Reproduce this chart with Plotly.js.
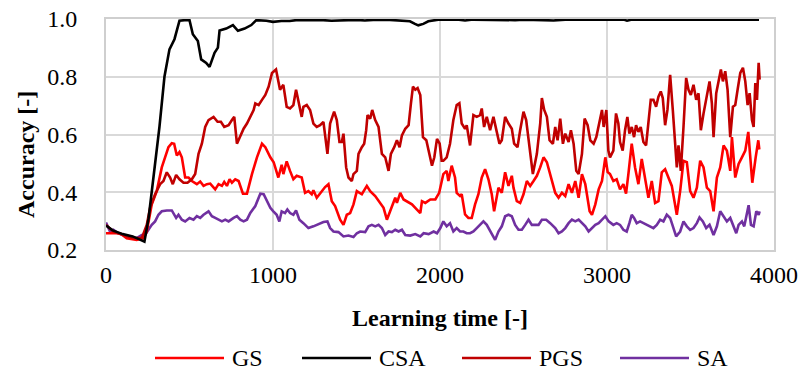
<!DOCTYPE html>
<html>
<head>
<meta charset="utf-8">
<script src="https://cdn.plot.ly/plotly-3.0.1.min.js"></script>
<style>
  html, body { margin: 0; padding: 0; background: #fff; }
  #chart { width: 800px; height: 378px; }
</style>
</head>
<body>
<div id="chart"></div>
<script>
// Accuracy over learning time for four search strategies

const seriesNames = ['GS', 'CSA', 'PGS', 'SA'];
const seriesColors = ['#ff0000', '#000000', '#c00000', '#7030a0'];

const gsTime = [0, 84, 124, 184, 224, 244, 274, 304, 334, 354, 374, 394, 408, 424, 440, 454, 474, 494, 514, 544, 564, 584, 604, 624, 654, 674, 694, 708, 724, 740, 754, 774, 794, 820, 844, 874, 904, 934, 954, 984, 1004,
  1032, 1052, 1062, 1082, 1102, 1122, 1142, 1172, 1192, 1212, 1232, 1242, 1262, 1292, 1312, 1332, 1352, 1372, 1402, 1422, 1442, 1462, 1482, 1502, 1518, 1532, 1562, 1582, 1612, 1642, 1662, 1682, 1702, 1732, 1742, 1762, 1782, 1812, 1832, 1862, 1882, 1892, 1912, 1942, 1972, 1995, 2020,
  2040, 2050, 2070, 2090, 2100, 2120, 2130, 2150, 2170, 2190, 2210, 2230, 2250, 2270, 2290, 2310, 2324, 2350, 2370, 2390, 2410, 2430, 2440, 2460, 2480, 2500, 2520, 2540, 2560, 2580, 2600, 2620, 2640, 2660, 2690, 2710, 2730, 2750, 2770, 2790, 2810, 2830, 2850, 2870, 2896, 2910, 2930, 2950, 2970, 2990, 3004,
  3018, 3038, 3058, 3078, 3098, 3114, 3128, 3148, 3168, 3188, 3208, 3228, 3248, 3268, 3288, 3308, 3328, 3348, 3368, 3388, 3418, 3438, 3458, 3478, 3498, 3518, 3538, 3558, 3578, 3598, 3618, 3638, 3658, 3678, 3698, 3718, 3738, 3748, 3768, 3788, 3808, 3828, 3846, 3870, 3890, 3906, 3912];
const gsAcc = [0.258, 0.258, 0.241, 0.235, 0.241, 0.264, 0.358, 0.404, 0.486, 0.521, 0.556, 0.570, 0.568, 0.527, 0.539, 0.521, 0.451, 0.451, 0.439, 0.428, 0.437, 0.422, 0.428, 0.430, 0.410, 0.428, 0.422, 0.436, 0.422, 0.445, 0.433, 0.445, 0.439, 0.395, 0.395, 0.463, 0.521, 0.568, 0.556, 0.521, 0.504,
  0.451, 0.495, 0.463, 0.507, 0.474, 0.445, 0.457, 0.451, 0.398, 0.404, 0.393, 0.407, 0.381, 0.404, 0.418, 0.428, 0.369, 0.352, 0.305, 0.287, 0.322, 0.328, 0.358, 0.404, 0.398, 0.393, 0.422, 0.404, 0.387, 0.363, 0.346, 0.305, 0.334, 0.381, 0.363, 0.398, 0.375, 0.363, 0.358, 0.340, 0.328, 0.369, 0.363, 0.375, 0.375, 0.398, 0.463,
  0.474, 0.439, 0.492, 0.451, 0.398, 0.387, 0.393, 0.323, 0.311, 0.311, 0.358, 0.393, 0.451, 0.480, 0.445, 0.393, 0.334, 0.416, 0.398, 0.469, 0.422, 0.457, 0.416, 0.369, 0.363, 0.393, 0.439, 0.422, 0.439, 0.457, 0.486, 0.521, 0.504, 0.463, 0.398, 0.381, 0.398, 0.387, 0.428, 0.398, 0.439, 0.381, 0.463, 0.428, 0.334, 0.322, 0.358, 0.410, 0.439, 0.521, 0.470,
  0.463, 0.439, 0.445, 0.410, 0.428, 0.395, 0.463, 0.568, 0.486, 0.428, 0.515, 0.451, 0.381, 0.439, 0.363, 0.369, 0.469, 0.480, 0.451, 0.422, 0.322, 0.404, 0.509, 0.504, 0.404, 0.381, 0.416, 0.509, 0.486, 0.416, 0.404, 0.334, 0.451, 0.486, 0.562, 0.544, 0.474, 0.591, 0.451, 0.498, 0.521, 0.544, 0.609, 0.433, 0.520, 0.580, 0.548];

const csaTime = [0, 40, 100, 160, 200, 230, 255, 290, 320, 350, 380, 410, 440, 470, 500, 520, 550, 570, 600, 620, 650, 670, 680, 720, 760, 790, 830, 870, 900, 960, 1000, 1050, 1100, 1150, 1200, 1300, 1350, 1400, 1450, 1500, 1550, 1600, 1700, 1780, 1820, 1850, 1870, 1900, 1930, 1970, 2000, 2100, 2150, 2200, 2300, 2350, 2450, 2500, 2600, 2680, 2750, 2900, 3000, 3100, 3120, 3150, 3300, 3500, 3700, 3910];
const csaAcc = [0.285, 0.268, 0.255, 0.247, 0.237, 0.229, 0.310, 0.474, 0.626, 0.800, 0.895, 0.930, 0.994, 0.996, 0.996, 0.947, 0.924, 0.860, 0.848, 0.834, 0.883, 0.901, 0.960, 0.967, 0.979, 0.959, 0.967, 0.979, 0.996, 0.994, 0.990, 0.993, 0.993, 0.997, 0.997, 0.996, 0.994, 0.995, 0.997, 0.997, 0.995, 0.997, 0.997, 0.995, 0.992, 0.983, 0.978, 0.983, 0.992, 0.996, 0.998, 0.998, 0.995, 0.998, 0.997, 0.998, 0.996, 0.998, 0.997, 0.995, 0.998, 0.997, 0.998, 0.998, 0.994, 0.998, 0.998, 0.998, 0.998, 0.998];

const pgsTime = [0, 44, 104, 164, 214, 244, 264, 294, 324, 344, 364, 384, 400, 420, 440, 464, 488, 514, 534, 554, 574, 594, 614, 644, 668, 688, 708, 734, 754, 768, 784, 804, 824, 844, 864, 884, 894, 914, 934, 954, 974, 994,
  1018, 1032, 1042, 1062, 1082, 1102, 1122, 1138, 1152, 1172, 1182, 1202, 1222, 1242, 1262, 1282, 1302, 1326, 1342, 1366, 1382, 1398, 1412, 1422, 1438, 1452, 1472, 1482, 1502, 1512, 1532, 1546, 1558, 1566, 1582, 1594, 1612, 1632, 1652, 1672, 1692, 1706, 1726, 1742, 1758, 1772, 1792, 1812, 1826, 1838, 1852, 1866, 1882, 1898, 1918, 1938, 1952, 1966, 1982, 1998,
  2010, 2020, 2040, 2060, 2080, 2100, 2116, 2130, 2150, 2160, 2180, 2200, 2220, 2240, 2250, 2264, 2280, 2300, 2320, 2340, 2356, 2370, 2390, 2410, 2430, 2444, 2464, 2480, 2500, 2516, 2536, 2556, 2580, 2600, 2610, 2624, 2640, 2656, 2676, 2690, 2704, 2720, 2736, 2750, 2770, 2784, 2800, 2816, 2830, 2850, 2866, 2884, 2900, 2920, 2936, 2956, 2970, 2980, 2996, 3008,
  3018, 3038, 3054, 3068, 3078, 3094, 3108, 3122, 3134, 3148, 3162, 3174, 3188, 3202, 3218, 3234, 3248, 3262, 3278, 3294, 3308, 3322, 3334, 3348, 3362, 3378, 3394, 3408, 3418, 3428, 3442, 3458, 3474, 3488, 3502, 3518, 3534, 3548, 3562, 3578, 3598, 3614, 3628, 3638, 3654, 3668, 3682, 3694, 3708, 3722, 3738, 3754, 3768, 3782, 3798, 3814, 3828, 3842, 3854, 3868, 3878, 3888, 3898, 3908, 3914];
const pgsAcc = [0.287, 0.264, 0.252, 0.241, 0.241, 0.287, 0.346, 0.393, 0.428, 0.439, 0.469, 0.451, 0.428, 0.460, 0.445, 0.433, 0.433, 0.445, 0.463, 0.533, 0.568, 0.626, 0.650, 0.661, 0.644, 0.644, 0.626, 0.632, 0.650, 0.661, 0.568, 0.597, 0.620, 0.638, 0.661, 0.685, 0.708, 0.702, 0.720, 0.737, 0.766, 0.813,
  0.825, 0.778, 0.755, 0.772, 0.696, 0.690, 0.702, 0.755, 0.720, 0.661, 0.696, 0.702, 0.685, 0.638, 0.626, 0.632, 0.644, 0.533, 0.638, 0.679, 0.650, 0.574, 0.574, 0.603, 0.486, 0.451, 0.439, 0.463, 0.474, 0.533, 0.556, 0.568, 0.615, 0.667, 0.655, 0.685, 0.650, 0.626, 0.533, 0.521, 0.474, 0.533, 0.556, 0.580, 0.556, 0.597, 0.620, 0.632, 0.708, 0.766, 0.755, 0.761, 0.737, 0.591, 0.580, 0.533, 0.492, 0.521, 0.585, 0.568,
  0.509, 0.509, 0.521, 0.568, 0.650, 0.702, 0.708, 0.638, 0.620, 0.632, 0.562, 0.667, 0.661, 0.667, 0.690, 0.626, 0.661, 0.615, 0.661, 0.609, 0.568, 0.580, 0.661, 0.638, 0.620, 0.568, 0.556, 0.615, 0.679, 0.650, 0.556, 0.463, 0.533, 0.638, 0.726, 0.685, 0.661, 0.580, 0.568, 0.626, 0.580, 0.655, 0.568, 0.603, 0.574, 0.615, 0.568, 0.474, 0.463, 0.533, 0.655, 0.632, 0.580, 0.568, 0.591, 0.650, 0.685, 0.626, 0.685, 0.544,
  0.521, 0.544, 0.673, 0.638, 0.574, 0.544, 0.615, 0.661, 0.603, 0.626, 0.591, 0.632, 0.609, 0.626, 0.574, 0.562, 0.650, 0.720, 0.720, 0.696, 0.731, 0.749, 0.726, 0.632, 0.685, 0.807, 0.685, 0.544, 0.486, 0.562, 0.474, 0.626, 0.796, 0.755, 0.737, 0.772, 0.720, 0.743, 0.615, 0.673, 0.743, 0.784, 0.708, 0.591, 0.743, 0.784, 0.825, 0.784, 0.819, 0.755, 0.591, 0.696, 0.702, 0.755, 0.813, 0.831, 0.784, 0.702, 0.743, 0.650, 0.626, 0.778, 0.720, 0.848, 0.790];

const saTime = [0, 24, 44, 74, 104, 144, 184, 214, 234, 254, 274, 294, 314, 334, 364, 394, 404, 420, 434, 454, 474, 500, 524, 544, 564, 584, 614, 634, 654, 674, 694, 714, 734, 764, 784, 804, 824, 844, 864, 894, 924, 944, 964, 984,
  1002, 1022, 1038, 1052, 1072, 1086, 1102, 1122, 1138, 1158, 1182, 1212, 1242, 1272, 1302, 1326, 1342, 1362, 1392, 1422, 1452, 1482, 1502, 1522, 1552, 1572, 1592, 1612, 1632, 1652, 1672, 1692, 1712, 1732, 1752, 1772, 1792, 1822, 1852, 1882, 1902, 1932, 1962, 1982, 2002,
  2020, 2040, 2060, 2080, 2100, 2120, 2140, 2160, 2180, 2200, 2220, 2240, 2260, 2280, 2300, 2330, 2350, 2370, 2390, 2410, 2430, 2450, 2470, 2490, 2510, 2530, 2550, 2570, 2590, 2610, 2636, 2660, 2690, 2710, 2730, 2750, 2770, 2790, 2810, 2830, 2850, 2870, 2890, 2910, 2930, 2950, 2970, 2990, 3010,
  3038, 3058, 3078, 3098, 3118, 3134, 3148, 3162, 3178, 3198, 3218, 3238, 3258, 3278, 3298, 3318, 3338, 3358, 3378, 3398, 3414, 3438, 3458, 3478, 3498, 3518, 3538, 3554, 3574, 3594, 3614, 3638, 3658, 3678, 3698, 3718, 3738, 3758, 3774, 3788, 3808, 3822, 3838, 3848, 3862, 3878, 3894, 3908, 3914];
const saAcc = [0.295, 0.264, 0.270, 0.258, 0.252, 0.247, 0.241, 0.252, 0.252, 0.270, 0.287, 0.299, 0.322, 0.334, 0.337, 0.337, 0.328, 0.311, 0.322, 0.305, 0.299, 0.311, 0.305, 0.317, 0.311, 0.322, 0.334, 0.317, 0.311, 0.305, 0.299, 0.305, 0.299, 0.311, 0.317, 0.305, 0.299, 0.305, 0.328, 0.352, 0.395, 0.393, 0.369, 0.346,
  0.334, 0.322, 0.299, 0.334, 0.328, 0.340, 0.328, 0.322, 0.337, 0.305, 0.293, 0.276, 0.282, 0.290, 0.297, 0.299, 0.276, 0.264, 0.262, 0.247, 0.250, 0.245, 0.258, 0.264, 0.262, 0.282, 0.287, 0.282, 0.287, 0.276, 0.252, 0.264, 0.262, 0.270, 0.264, 0.270, 0.252, 0.250, 0.255, 0.247, 0.258, 0.255, 0.264, 0.258, 0.276,
  0.299, 0.282, 0.293, 0.264, 0.276, 0.264, 0.264, 0.258, 0.258, 0.264, 0.276, 0.287, 0.299, 0.287, 0.264, 0.235, 0.264, 0.282, 0.317, 0.322, 0.317, 0.287, 0.270, 0.270, 0.287, 0.305, 0.287, 0.287, 0.287, 0.305, 0.305, 0.293, 0.276, 0.258, 0.264, 0.276, 0.293, 0.305, 0.299, 0.305, 0.293, 0.282, 0.264, 0.276, 0.287, 0.293, 0.305, 0.317, 0.299,
  0.287, 0.293, 0.287, 0.270, 0.264, 0.293, 0.322, 0.311, 0.293, 0.299, 0.293, 0.287, 0.282, 0.276, 0.287, 0.305, 0.299, 0.322, 0.311, 0.276, 0.247, 0.264, 0.299, 0.282, 0.270, 0.276, 0.293, 0.313, 0.299, 0.276, 0.287, 0.252, 0.282, 0.334, 0.317, 0.299, 0.311, 0.282, 0.258, 0.287, 0.299, 0.282, 0.322, 0.355, 0.287, 0.282, 0.334, 0.322, 0.334];

const xTickVals = [0, 1000, 2000, 3000, 4000];
const yTickVals = [0.2, 0.4, 0.6, 0.8, 1.0];

const timeSets = [gsTime, csaTime, pgsTime, saTime];
const accSets = [gsAcc, csaAcc, pgsAcc, saAcc];

const FONT = '"Liberation Serif", "Times New Roman", Times, serif';
const TICK_SIZE = 24;
const TITLE_SIZE = 24;

// Draw order: SA under the others, CSA on top
const drawOrder = [3, 0, 2, 1];
const traces = drawOrder.map(i => ({
  type: 'scatter',
  mode: 'lines',
  name: seriesNames[i],
  x: timeSets[i],
  y: accSets[i],
  line: { color: seriesColors[i], width: 2.6 },
  showlegend: false,
  hoverinfo: 'skip'
}));

// Pixel geometry of the plotting area, used to place the legend row and the y title
const plotL = 106, plotW = 668, plotB = 250, plotH = 231;
const toPaperX = px => (px - plotL) / plotW;
const toPaperY = py => (plotB - py) / plotH;

// Legend row below the axis title: a line swatch then the series name
const legendLeft = [155, 302, 462, 620];
const legendY = toPaperY(358);
const shapes = [];
const annotations = [];
seriesNames.forEach((name, i) => {
  shapes.push({
    type: 'line', xref: 'paper', yref: 'paper',
    x0: toPaperX(legendLeft[i]), x1: toPaperX(legendLeft[i] + 69),
    y0: legendY, y1: legendY,
    line: { color: seriesColors[i], width: 2.6 }
  });
  annotations.push({
    xref: 'paper', yref: 'paper',
    x: toPaperX(legendLeft[i] + 75), y: legendY,
    xanchor: 'left', yanchor: 'middle',
    text: name, showarrow: false,
    font: { family: FONT, size: TICK_SIZE, color: '#000' }
  });
});

// Vertical y-axis title, centred a little below the middle of the plot
annotations.push({
  xref: 'paper', yref: 'paper',
  x: toPaperX(26), y: toPaperY(155),
  xanchor: 'center', yanchor: 'middle',
  textangle: -90,
  text: '<b>Accuracy [-]</b>', showarrow: false,
  font: { family: FONT, size: TITLE_SIZE, color: '#000' }
});

const layout = {
  width: 800,
  height: 378,
  margin: { l: 106, r: 26, t: 19, b: 128, pad: 0 },
  paper_bgcolor: '#ffffff',
  plot_bgcolor: '#ffffff',
  font: { family: FONT, size: TICK_SIZE, color: '#000' },
  xaxis: {
    range: [0, 4000],
    tickvals: xTickVals,
    ticktext: xTickVals.map(String),
    showgrid: true, gridcolor: '#d9d9d9', gridwidth: 2,
    showline: true, linecolor: '#cfcfcf', linewidth: 2, mirror: true,
    zeroline: false, ticks: '',
    ticklabelstandoff: 2,
    tickfont: { family: FONT, size: TICK_SIZE, color: '#000' },
    title: { text: '<b>Learning time [-]</b>', font: { family: FONT, size: TITLE_SIZE, color: '#000' }, standoff: 22 }
  },
  yaxis: {
    range: [0.2, 1.0],
    tickvals: yTickVals,
    ticktext: yTickVals.map(v => v.toFixed(1)),
    showgrid: true, gridcolor: '#d9d9d9', gridwidth: 2,
    showline: true, linecolor: '#cfcfcf', linewidth: 2, mirror: true,
    zeroline: false, ticks: '',
    ticklabelstandoff: 22,
    tickfont: { family: FONT, size: TICK_SIZE, color: '#000' }
  },
  shapes: shapes,
  annotations: annotations
};

Plotly.newPlot('chart', traces, layout, { displayModeBar: false, staticPlot: true });
</script>
</body>
</html>
